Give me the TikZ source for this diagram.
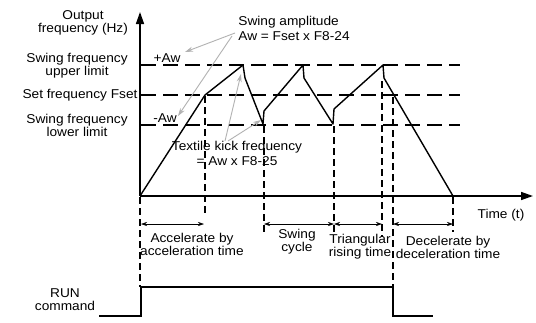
\documentclass[tikz,border=0pt]{standalone}
\usepackage{fontspec}
\setmainfont{Liberation Sans}[FakeStretch=1.07]
\usetikzlibrary{arrows.meta}
\begin{document}
\begin{tikzpicture}[x=1pt,y=-1pt,
  lbl/.style={inner sep=0pt,align=center,font=\fontsize{12.8}{13}\selectfont},
  axisline/.style={line width=1.5pt,-{Triangle[length=12pt,width=8pt]}},
  wave/.style={line width=1.4pt,line join=round},
  hdash/.style={line width=1.8pt,dash pattern=on 15pt off 7pt},
  vdash/.style={line width=1.5pt,dash pattern=on 7pt off 4pt},
  dim/.style={line width=0.6pt,{Stealth[length=6pt,width=4pt]}-{Stealth[length=6pt,width=4pt]}},
  pointer/.style={line width=0.9pt,draw=black!30,-{Stealth[length=8pt,width=5pt]}},
  runline/.style={line width=1.4pt}]
\useasboundingbox[fill=white] (0,0) rectangle (536,322);

% coordinates
\coordinate (O) at (140,196);
\coordinate (ytip) at (140,12);
\coordinate (xtip) at (533,196);
\coordinate (p1) at (205,95);
\coordinate (p2) at (243,65);
\coordinate (p3) at (245,78);
\coordinate (p4) at (263,124);
\coordinate (p5) at (264,111);
\coordinate (p6) at (303,65);
\coordinate (p7) at (304,78);
\coordinate (p8) at (333,124);
\coordinate (p9) at (334,109);
\coordinate (p10) at (383,65);
\coordinate (p11) at (384,78);
\coordinate (p12) at (453,196);

% dashed levels
\draw[hdash] (141,65) -- (460,65);
\draw[hdash] (141,95) -- (460,95);
\draw[hdash] (141,125) -- (460,125);

% vertical dashed
\draw[vdash] (140,197) -- (140,287);
\draw[vdash] (205,96) -- (205,216);
\draw[vdash] (264,126) -- (264,233);
\draw[vdash] (334,126) -- (334,235);
\draw[vdash] (382,81) -- (382,237);
\draw[vdash] (393,97) -- (393,287);
\draw[vdash] (453,197) -- (453,232);

% axes
\draw[axisline] (O) -- (ytip);
\draw[axisline] (O) -- (xtip);

% waveform
\draw[wave] (O) -- (p1) -- (p2) -- (p3) -- (p4) -- (p5) -- (p6) -- (p7) -- (p8) -- (p9) -- (p10) -- (p11) -- (p12);

% dimension arrows
\coordinate (d0) at (141,224);
\coordinate (d1) at (204,224);
\coordinate (d2) at (264,224);
\coordinate (d3) at (334,224);
\coordinate (d4) at (382,224);
\coordinate (d5) at (393,224);
\coordinate (d6) at (453,224);
\draw[dim] (d0) -- (d1);
\draw[dim] (d2) -- (d3);
\draw[dim] (d3) -- (d4);
\draw[dim] (d5) -- (d6);

% RUN signal
\coordinate (r0) at (99,316);
\coordinate (r1) at (141,316);
\coordinate (r2) at (141,287);
\coordinate (r3) at (393,287);
\coordinate (r4) at (393,316);
\coordinate (r5) at (433,316);
\draw[runline] (r0) -- (r1) -- (r2) -- (r3) -- (r4) -- (r5);

% labels
\node[lbl] (outf) at (83,23) {Output\\frequency (Hz)};
\node[lbl] (upper) at (77,66) {Swing frequency\\upper limit};
\node[lbl] (setf) at (80,95) {Set frequency Fset};
\node[lbl] (lower) at (77,125) {Swing frequency\\lower limit};
\node[lbl] (pAw) at (167,58) {+Aw};
\node[lbl] (mAw) at (165,118) {-Aw};
\node[lbl,align=left,font=\fontsize{12.8}{15}\selectfont] (amp) at (294,28) {Swing amplitude\\Aw = Fset x F8-24};
\node[lbl,font=\fontsize{12.8}{15}\selectfont] (kick) at (237,153) {Textile kick frequency\\= Aw x F8-25};
\node[lbl] (time) at (501,215) {Time (t)};
\node[lbl] (acc) at (192,244) {Accelerate by\\acceleration time};
\node[lbl] (cyc) at (297,242) {Swing\\cycle};
\node[lbl] (tri) at (360,247) {Triangular\\rising time};
\node[lbl] (dec) at (448,247) {Decelerate by\\deceleration time};
\node[lbl] (run) at (65,300) {RUN\\command};

% gray pointers
\coordinate (a1) at (235,33);
\coordinate (a2) at (232,36);
\coordinate (t1) at (185,52);
\coordinate (t2) at (178,116);
\coordinate (k1) at (225,141);
\coordinate (k2) at (228,141);
\coordinate (k1t) at (241,74);
\coordinate (k2t) at (261,120);
\draw[pointer] (a1) -- (t1);
\draw[pointer] (a2) -- (t2);
\draw[pointer] (k1) -- (k1t);
\draw[pointer] (k2) -- (k2t);
\end{tikzpicture}
\end{document}
